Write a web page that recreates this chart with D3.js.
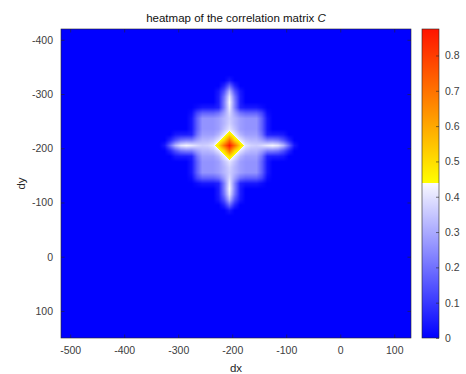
<!DOCTYPE html>
<html>
<head>
<meta charset="utf-8">
<script src="https://cdn.jsdelivr.net/npm/d3@7"></script>
<style>
  body { margin: 0; background: #fff; }
  text { font-family: "Liberation Sans", Arial, sans-serif; }
</style>
</head>
<body>
<div id="heatmap"></div>
<script>
// Axis ticks
const dxTicks = [-500, -400, -300, -200, -100, 0, 100];
const dyTicks = [-400, -300, -200, -100, 0, 100];
const cbTicks = [0, 0.1, 0.2, 0.3, 0.4, 0.5, 0.6, 0.7, 0.8];

// Grid positions of the correlation values (everything outside is 0)
const gridDx = [-325, -315, -305, -295, -285, -275, -265, -255, -245, -235, -225, -215, -205,
                -195, -185, -175, -165, -155, -145, -135, -125, -115, -105, -95, -85];
const gridDy = [-325, -315, -305, -295, -285, -275, -265, -255, -245, -235, -225, -215, -205,
                -195, -185, -175, -165, -155, -145, -135, -125, -115, -105, -95, -85];

// Correlation values, one row per gridDy
const corrC = [
  [0,0,0,0,0,0,0,0,0,0,0,0,.04,0,0,0,0,0,0,0,0,0,0,0,0],
  [0,0,0,0,0,0,0,0,0,0,0,.06,.18,.06,0,0,0,0,0,0,0,0,0,0,0],
  [0,0,0,0,0,0,0,0,0,0,.04,.14,.32,.14,.04,0,0,0,0,0,0,0,0,0,0],
  [0,0,0,0,0,0,0,0,0,0,.05,.20,.40,.20,.05,0,0,0,0,0,0,0,0,0,0],
  [0,0,0,0,0,0,0,0,0,0,.05,.22,.43,.22,.05,0,0,0,0,0,0,0,0,0,0],
  [0,0,0,0,0,0,.02,.04,.04,.04,.06,.22,.41,.22,.06,.04,.04,.04,.02,0,0,0,0,0,0],
  [0,0,0,0,0,.02,.12,.17,.17,.17,.20,.28,.38,.28,.20,.17,.17,.17,.12,.02,0,0,0,0,0],
  [0,0,0,0,0,.04,.17,.26,.26,.26,.28,.32,.36,.32,.28,.26,.26,.26,.17,.04,0,0,0,0,0],
  [0,0,0,0,0,.04,.17,.26,.26,.26,.28,.32,.37,.32,.28,.26,.26,.26,.17,.04,0,0,0,0,0],
  [0,0,0,0,0,.04,.17,.26,.26,.26,.28,.34,.40,.34,.28,.26,.26,.26,.17,.04,0,0,0,0,0],
  [0,0,.04,.05,.05,.06,.20,.28,.28,.28,.32,.40,.50,.40,.32,.28,.28,.28,.20,.06,.05,.05,.04,0,0],
  [0,.06,.14,.20,.22,.22,.28,.32,.32,.34,.40,.50,.70,.50,.40,.34,.32,.32,.28,.22,.22,.20,.14,.06,0],
  [.04,.18,.32,.40,.43,.41,.38,.36,.37,.40,.50,.70,.87,.70,.50,.40,.37,.36,.38,.41,.43,.40,.32,.18,.04],
  [0,.06,.14,.20,.22,.22,.28,.32,.32,.34,.40,.50,.70,.50,.40,.34,.32,.32,.28,.22,.22,.20,.14,.06,0],
  [0,0,.04,.05,.05,.06,.20,.28,.28,.28,.32,.40,.50,.40,.32,.28,.28,.28,.20,.06,.05,.05,.04,0,0],
  [0,0,0,0,0,.04,.17,.26,.26,.26,.28,.34,.40,.34,.28,.26,.26,.26,.17,.04,0,0,0,0,0],
  [0,0,0,0,0,.04,.17,.26,.26,.26,.28,.32,.37,.32,.28,.26,.26,.26,.17,.04,0,0,0,0,0],
  [0,0,0,0,0,.04,.17,.26,.26,.26,.28,.32,.36,.32,.28,.26,.26,.26,.17,.04,0,0,0,0,0],
  [0,0,0,0,0,.02,.12,.17,.17,.17,.20,.28,.38,.28,.20,.17,.17,.17,.12,.02,0,0,0,0,0],
  [0,0,0,0,0,0,.02,.04,.04,.04,.06,.22,.41,.22,.06,.04,.04,.04,.02,0,0,0,0,0,0],
  [0,0,0,0,0,0,0,0,0,0,.05,.22,.43,.22,.05,0,0,0,0,0,0,0,0,0,0],
  [0,0,0,0,0,0,0,0,0,0,.05,.20,.40,.20,.05,0,0,0,0,0,0,0,0,0,0],
  [0,0,0,0,0,0,0,0,0,0,.04,.14,.32,.14,.04,0,0,0,0,0,0,0,0,0,0],
  [0,0,0,0,0,0,0,0,0,0,0,.06,.18,.06,0,0,0,0,0,0,0,0,0,0,0],
  [0,0,0,0,0,0,0,0,0,0,0,0,.04,0,0,0,0,0,0,0,0,0,0,0,0]
];

// Set up dimensions
const W = 466, H = 374;
const plot = {left: 61, right: 411, top: 29, bottom: 338};
const cbar = {left: 422, width: 17};
const axisColor = "#262626";

const svg = d3.select("#heatmap")
    .append("svg")
    .attr("width", W)
    .attr("height", H);

// Scales
const x = d3.scaleLinear().domain([-517, 131]).range([plot.left, plot.right]);
const y = d3.scaleLinear().domain([-420, 150]).range([plot.top, plot.bottom]);
const cMax = 0.875;
const cb = d3.scaleLinear().domain([0, cMax]).range([plot.bottom, plot.top]);

// Two-part colormap: blue -> white, then yellow -> red
const lowColor = d3.scaleLinear().domain([0, cMax / 2]).range(["#0000ff", "#f8f8ff"]).clamp(true);
const highColor = d3.scaleLinear().domain([cMax / 2, cMax]).range(["#ffff00", "#ff1400"]).clamp(true);
const colorOf = v => v < cMax / 2 ? lowColor(v) : highColor(v);

// Value lookup on the grid, shaded smoothly between grid points
const step = gridDx[1] - gridDx[0];
function cell(i, j) {
    if (j < 0 || j >= gridDy.length || i < 0 || i >= gridDx.length) return 0;
    return corrC[j][i];
}
function valueAt(dx, dy) {
    const fx = (dx - gridDx[0]) / step, fy = (dy - gridDy[0]) / step;
    const i = Math.floor(fx), j = Math.floor(fy);
    const tx = fx - i, ty = fy - j;
    return cell(i, j) * (1 - tx) * (1 - ty) + cell(i + 1, j) * tx * (1 - ty)
         + cell(i, j + 1) * (1 - tx) * ty + cell(i + 1, j + 1) * tx * ty;
}

// Paint the heatmap into an image
const pw = plot.right - plot.left, ph = plot.bottom - plot.top;
const canvas = document.createElement("canvas");
canvas.width = pw;
canvas.height = ph;
const ctx = canvas.getContext("2d");
const img = ctx.createImageData(pw, ph);
for (let py = 0; py < ph; py++) {
    const dy = y.invert(plot.top + py + 0.5);
    for (let px = 0; px < pw; px++) {
        const dx = x.invert(plot.left + px + 0.5);
        const c = d3.rgb(colorOf(valueAt(dx, dy)));
        const k = (py * pw + px) * 4;
        img.data[k] = c.r; img.data[k + 1] = c.g; img.data[k + 2] = c.b; img.data[k + 3] = 255;
    }
}
ctx.putImageData(img, 0, 0);

svg.append("image")
    .attr("x", plot.left)
    .attr("y", plot.top)
    .attr("width", pw)
    .attr("height", ph)
    .attr("preserveAspectRatio", "none")
    .attr("href", canvas.toDataURL());

// Axes (ticks point inward like MATLAB)
function styleAxis(g) {
    g.select(".domain").remove();
    g.selectAll(".tick line").attr("stroke", axisColor).attr("stroke-width", 0.6);
    g.selectAll(".tick text").attr("fill", "#404040").style("font-size", "10.5px");
}
const plain = d => String(d);

svg.append("g")
    .attr("transform", `translate(0,${plot.bottom})`)
    .call(d3.axisBottom(x).tickValues(dxTicks).tickSizeInner(-3.5).tickPadding(9).tickFormat(plain))
    .call(styleAxis);
svg.append("g")
    .attr("transform", `translate(0,${plot.top})`)
    .call(d3.axisTop(x).tickValues(dxTicks).tickSizeInner(-3.5).tickFormat(""))
    .call(styleAxis);
svg.append("g")
    .attr("transform", `translate(${plot.left},0)`)
    .call(d3.axisLeft(y).tickValues(dyTicks).tickSizeInner(-3.5).tickPadding(8).tickFormat(plain))
    .call(styleAxis);
svg.append("g")
    .attr("transform", `translate(${plot.right},0)`)
    .call(d3.axisRight(y).tickValues(dyTicks).tickSizeInner(-3.5).tickFormat(""))
    .call(styleAxis);

// Axes box
svg.append("rect")
    .attr("x", plot.left)
    .attr("y", plot.top)
    .attr("width", pw)
    .attr("height", ph)
    .attr("fill", "none")
    .attr("stroke", axisColor)
    .attr("stroke-width", 0.6);

// Colorbar
const grad = svg.append("defs").append("linearGradient")
    .attr("id", "cmap")
    .attr("x1", 0).attr("y1", 1).attr("x2", 0).attr("y2", 0);
[[0, lowColor(0)], [0.5, lowColor(cMax / 2)], [0.5, highColor(cMax / 2)], [1, highColor(cMax)]]
    .forEach(([o, c]) => grad.append("stop").attr("offset", o).attr("stop-color", c));

svg.append("rect")
    .attr("x", cbar.left)
    .attr("y", cb(cMax))
    .attr("width", cbar.width)
    .attr("height", cb(0) - cb(cMax))
    .attr("fill", "url(#cmap)")
    .attr("stroke", axisColor)
    .attr("stroke-width", 0.6);

svg.append("g")
    .attr("transform", `translate(${cbar.left + cbar.width},0)`)
    .call(d3.axisRight(cb).tickValues(cbTicks).tickSizeInner(-3).tickPadding(6).tickFormat(d => d3.format(".1~f")(d)))
    .call(styleAxis);

// Labels
svg.append("text")
    .attr("x", (plot.left + plot.right) / 2)
    .attr("y", 372)
    .attr("text-anchor", "middle")
    .attr("fill", "#262626")
    .style("font-size", "11.5px")
    .text("dx");

svg.append("text")
    .attr("transform", "rotate(-90)")
    .attr("x", -(plot.top + plot.bottom) / 2)
    .attr("y", 25)
    .attr("text-anchor", "middle")
    .attr("fill", "#262626")
    .style("font-size", "11.5px")
    .text("dy");

// Title
const title = svg.append("text")
    .attr("x", (plot.left + plot.right) / 2)
    .attr("y", 22)
    .attr("text-anchor", "middle")
    .attr("fill", "#111")
    .style("font-size", "11.5px");
title.append("tspan").text("heatmap of the correlation matrix ");
title.append("tspan").style("font-style", "italic").text("C");
</script>
</body>
</html>
